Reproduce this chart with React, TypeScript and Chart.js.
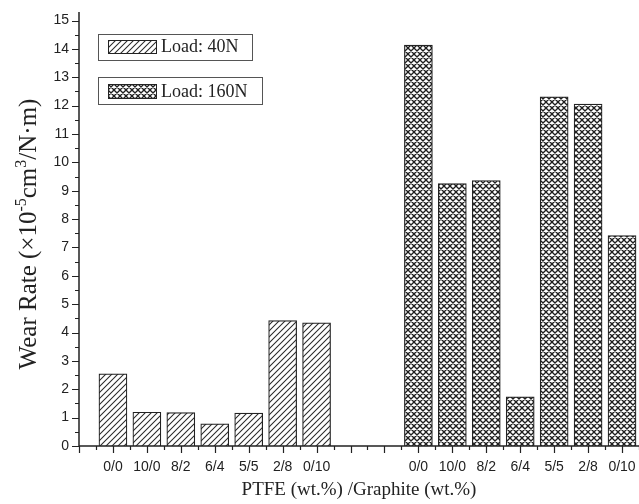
import React, { useEffect, useRef } from 'react';
import { Chart, registerables } from 'chart.js';

Chart.register(...registerables);

const categories = ['0/0', '10/0', '8/2', '6/4', '5/5', '2/8', '0/10'];
const load40 = [2.54, 1.19, 1.18, 0.78, 1.16, 4.42, 4.34];
const load160 = [14.13, 9.25, 9.36, 1.73, 12.31, 12.05, 7.42];
const seriesLabels = ['Load: 40N', 'Load: 160N'];
const group40Start = 1;
const group160Start = 10;
const yTickValues = [0, 1, 2, 3, 4, 5, 6, 7, 8, 9, 10, 11, 12, 13, 14, 15];
const xTitle = 'PTFE (wt.%) /Graphite (wt.%)';

const INK = '#222';

function makePattern(cross: boolean): CanvasPattern | string {
  const s = 6;
  const c = document.createElement('canvas');
  c.width = s;
  c.height = s;
  const g = c.getContext('2d');
  if (!g) return '#fff';
  g.fillStyle = '#fff';
  g.fillRect(0, 0, s, s);
  g.strokeStyle = cross ? '#1e1e1e' : '#2a2a2a';
  g.lineWidth = cross ? 1.35 : 1.05;
  g.beginPath();
  g.moveTo(-1, s + 1);
  g.lineTo(s + 1, -1);
  g.moveTo(-1, 1);
  g.lineTo(1, -1);
  g.moveTo(s - 1, s + 1);
  g.lineTo(s + 1, s - 1);
  if (cross) {
    g.moveTo(-1, -1);
    g.lineTo(s + 1, s + 1);
    g.moveTo(s - 1, -1);
    g.lineTo(s + 1, 1);
    g.moveTo(-1, s - 1);
    g.lineTo(1, s + 1);
  }
  g.stroke();
  const p = g.createPattern(c, 'repeat');
  return p || '#fff';
}

export default function App() {
  const ref = useRef<HTMLCanvasElement | null>(null);

  useEffect(() => {
    const canvas = ref.current;
    if (!canvas) return;
    const pat40 = makePattern(false);
    const pat160 = makePattern(true);
    const patterns = [pat40, pat160];

    const xPositions: number[] = [];
    const labelMap = new Map<number, string>();
    categories.forEach((c, i) => {
      xPositions.push(group40Start + i);
      labelMap.set(group40Start + i, c);
    });
    categories.forEach((c, i) => {
      xPositions.push(group160Start + i);
      labelMap.set(group160Start + i, c);
    });

    const decorPlugin = {
      id: 'decor',
      afterDraw(chart: any) {
        const ctx = chart.ctx as CanvasRenderingContext2D;
        const xs = chart.scales.x;
        const ys = chart.scales.y;
        const area = chart.chartArea;
        const y0 = ys.getPixelForValue(0);
        ctx.save();
        ctx.strokeStyle = INK;
        ctx.lineWidth = 1.5;
        ctx.beginPath();
        ctx.moveTo(area.left, area.top);
        ctx.lineTo(area.left, y0);
        ctx.lineTo(area.right, y0);
        ctx.stroke();
        ctx.lineWidth = 1.2;
        ctx.beginPath();
        for (let v = xs.min; v <= xs.max + 1e-9; v += 0.5) {
          const px = Math.round(xs.getPixelForValue(v)) + 0.5;
          const major = Math.abs(v - Math.round(v)) < 1e-9;
          ctx.moveTo(px, y0);
          ctx.lineTo(px, y0 + (major ? 7 : 4));
        }
        for (let v = 0; v <= ys.max + 1e-9; v += 0.5) {
          const py = Math.round(ys.getPixelForValue(v)) + 0.5;
          const major = Math.abs(v - Math.round(v)) < 1e-9;
          ctx.moveTo(area.left, py);
          ctx.lineTo(area.left - (major ? 7 : 4), py);
        }
        ctx.stroke();

        const boxes = [
          { x: 98.5, y: 34.5, w: 154, h: 26, sx: 108, sy: 40, sw: 48, sh: 13 },
          { x: 98.5, y: 77.5, w: 164, h: 27, sx: 108, sy: 84, sw: 48, sh: 14 },
        ];
        chart.data.datasets.forEach((ds: any, i: number) => {
          const b = boxes[i];
          ctx.fillStyle = '#fff';
          ctx.fillRect(b.x, b.y, b.w, b.h);
          ctx.strokeStyle = '#555';
          ctx.lineWidth = 1;
          ctx.strokeRect(b.x, b.y, b.w, b.h);
          ctx.fillStyle = patterns[i] as any;
          ctx.fillRect(b.sx, b.sy, b.sw, b.sh);
          ctx.strokeStyle = INK;
          ctx.strokeRect(b.sx + 0.5, b.sy + 0.5, b.sw, b.sh);
          ctx.fillStyle = INK;
          ctx.font = '18px "Liberation Serif", "Times New Roman", serif';
          ctx.textBaseline = 'middle';
          ctx.textAlign = 'left';
          ctx.fillText(ds.label, 161, b.sy + b.sh / 2 + 1);
        });

        ctx.fillStyle = INK;
        ctx.font = '19px "Liberation Serif", "Times New Roman", serif';
        ctx.textAlign = 'center';
        ctx.textBaseline = 'middle';
        ctx.fillText(xTitle, (area.left + area.right) / 2, 490);

        const parts: [string, boolean][] = [
          ['Wear Rate (\u00d710', false],
          ['-5', true],
          ['cm', false],
          ['3', true],
          ['/N\u00b7m)', false],
        ];
        const measure = (size: number) => {
          let t = 0;
          parts.forEach(([s, sup]) => {
            ctx.font = `${sup ? Math.round(size * 0.65) : size}px "Liberation Serif", "Times New Roman", serif`;
            t += ctx.measureText(s).width;
          });
          return t;
        };
        const size = Math.round((20 * 276) / measure(20));
        const total = measure(size);
        ctx.translate(27, 234);
        ctx.rotate(-Math.PI / 2);
        ctx.textAlign = 'left';
        ctx.textBaseline = 'alphabetic';
        let cx = -total / 2;
        parts.forEach(([s, sup]) => {
          ctx.font = `${sup ? Math.round(size * 0.65) : size}px "Liberation Serif", "Times New Roman", serif`;
          ctx.fillText(s, cx, sup ? -Math.round(size * 0.05) : Math.round(size * 0.35));
          cx += ctx.measureText(s).width;
        });
        ctx.restore();
      },
    };

    const chart = new Chart(canvas, {
      type: 'bar',
      data: {
        datasets: [
          {
            label: seriesLabels[0],
            data: load40.map((v, i) => ({ x: group40Start + i, y: v })),
            backgroundColor: pat40 as any,
            borderColor: INK,
            borderWidth: 1.2,
            barThickness: 28,
            grouped: false,
          } as any,
          {
            label: seriesLabels[1],
            data: load160.map((v, i) => ({ x: group160Start + i, y: v })),
            backgroundColor: pat160 as any,
            borderColor: INK,
            borderWidth: 1.2,
            barThickness: 28,
            grouped: false,
          } as any,
        ],
      },
      options: {
        animation: false,
        responsive: false,
        maintainAspectRatio: false,
        layout: { padding: { top: 12, right: 0, left: 0, bottom: 0 } },
        plugins: {
          legend: { display: false },
          tooltip: { enabled: false },
        },
        scales: {
          x: {
            type: 'linear',
            offset: false,
            min: 0,
            max: 16.5,
            grid: { display: false, drawTicks: false, offset: false },
            border: { display: false },
            afterFit: (s: any) => {
              s.height = 58;
              s.paddingLeft = 0;
              s.paddingRight = 0;
            },
            afterBuildTicks: (s: any) => {
              s.ticks = xPositions.map((v) => ({ value: v }));
            },
            ticks: {
              autoSkip: false,
              maxRotation: 0,
              minRotation: 0,
              padding: 13,
              color: INK,
              font: { family: '"Liberation Sans", Arial, sans-serif', size: 14 },
              callback: (v: any) => labelMap.get(Number(v)) ?? '',
            },
          },
          y: {
            type: 'linear',
            min: 0,
            max: 15.3,
            grid: { display: false, drawTicks: false },
            border: { display: false },
            afterFit: (s: any) => {
              s.width = 79;
              s.paddingTop = 0;
              s.paddingBottom = 0;
            },
            afterBuildTicks: (s: any) => {
              s.ticks = yTickValues.map((v) => ({ value: v }));
            },
            ticks: {
              padding: 10,
              color: INK,
              font: { family: '"Liberation Sans", Arial, sans-serif', size: 14 },
            },
          },
        },
      } as any,
      plugins: [decorPlugin],
    });

    return () => {
      chart.destroy();
    };
  }, []);

  return (
    <div style={{ position: 'fixed', left: 0, top: 0, width: 639, height: 504, background: '#fff' }}>
      <canvas ref={ref} width={639} height={504} style={{ width: 639, height: 504, display: 'block' }} />
    </div>
  );
}
